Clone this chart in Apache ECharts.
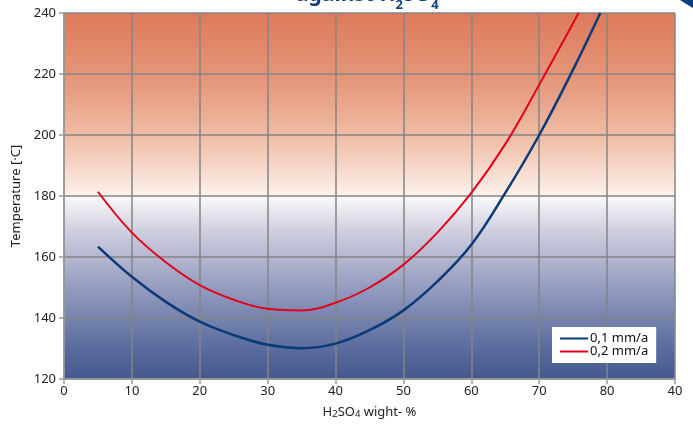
<!DOCTYPE html>
<html><head><meta charset="utf-8">
<script src="https://cdn.jsdelivr.net/npm/echarts@6/dist/echarts.min.js"></script>
<style>html,body{margin:0;padding:0;background:#fff}#c{width:693px;height:426px}</style>
</head><body><div id="c"></div>
<script>
const xTickLabels = ['0','10','20','30','40','50','60','70','80','40'];
const yTicks = [120,140,160,180,200,220,240];
const seriesNames = ['0,1 mm/a','0,2 mm/a'];
const blueX = [5,10,15,20,25,30,35,40,45,50,55,60,65,70,75,79];
const blueY = [163.4,153.5,145.3,138.8,134.4,131.2,130.1,131.6,136,142.5,152,164,181,200,221.5,240];
const redX = [5,10,15,20,25,30,35,40,45,50,55,60,65,70,75.8];
const redY = [181.4,168,158.3,150.8,146,143,142.5,145,150,157.5,168,181,197,216.5,240];

const FONT = 'Noto Sans';
const chart = echarts.init(document.getElementById('c'));
chart.setOption({
  animation:false,
  backgroundColor:'#fff',
  graphic:[
    {type:'text', left:296, top:-15, style:{
      text:'{a|against H}{s|2}{a|SO}{s|4}',
      rich:{
        a:{fontFamily:FONT,fontWeight:'bold',fontSize:21,fill:'#17407F',verticalAlign:'bottom',padding:[0,0,6,0]},
        s:{fontFamily:FONT,fontWeight:'bold',fontSize:13,fill:'#17407F',verticalAlign:'bottom'}
      }}},
    {type:'polygon', shape:{points:[[680,0],[693,0],[693,8],[688,5]]}, style:{fill:'#0E3C80'}}
  ],
  grid:{left:64,right:18,top:13,bottom:47,show:true,borderWidth:0,
    backgroundColor:{type:'linear',x:0,y:0,x2:0,y2:1,colorStops:[
      {offset:0,color:'#DD7A5B'},{offset:0.2,color:'#E69A7E'},{offset:0.35,color:'#F0C0AA'},
      {offset:0.495,color:'#FCF0E9'},{offset:0.5,color:'#FBF9FA'},{offset:0.6,color:'#CDCDDE'},
      {offset:0.75,color:'#959CBF'},{offset:0.9,color:'#5F70A1'},{offset:1,color:'#44598F'}]}},
  xAxis:{type:'value',min:0,max:90,interval:10,
    name:'{n|H}{s|2}{n|SO}{s|4}{n| wight- %}',nameLocation:'middle',nameGap:27,
    nameTextStyle:{rich:{n:{fontFamily:FONT,fontSize:13,color:'#222',verticalAlign:'bottom'},
                         s:{fontFamily:FONT,fontSize:9.5,color:'#222',verticalAlign:'bottom'}}},
    axisLine:{lineStyle:{color:'#9a9a9a',width:1.5}},
    axisTick:{show:true,length:5,lineStyle:{color:'#9a9a9a',width:1.5}},
    axisLabel:{fontFamily:FONT,fontSize:13,color:'#222',margin:6,
      formatter:(v)=>xTickLabels[Math.round(v/10)]},
    splitLine:{show:true,lineStyle:{color:'#858585',width:1.5}}},
  yAxis:{type:'value',min:120,max:240,interval:20,
    name:'Temperature [·C]',nameLocation:'middle',nameGap:38,
    nameTextStyle:{fontFamily:FONT,fontSize:13,color:'#222'},
    axisLine:{show:true,lineStyle:{color:'#9a9a9a',width:1.5}},
    axisTick:{show:true,length:5,lineStyle:{color:'#9a9a9a',width:1.5}},
    axisLabel:{fontFamily:FONT,fontSize:13,color:'#222',margin:8,
      formatter:(v)=>yTicks.includes(v)?String(v):''},
    splitLine:{show:true,lineStyle:{color:'#858585',width:1.5}}},
  legend:{show:true,orient:'vertical',left:552,top:327,width:110,
    backgroundColor:'#fff',padding:[5,8,5,8],itemGap:0,itemWidth:28,itemHeight:2,
    icon:'rect',textStyle:{fontFamily:FONT,fontSize:13,color:'#111',padding:[0,0,0,-3]},
    data:seriesNames},
  series:[
    {name:seriesNames[0],type:'line',smooth:0.4,showSymbol:false,symbol:'none',
      data:blueX.map((x,i)=>[x,blueY[i]]),lineStyle:{color:'#0B3A78',width:2.5},itemStyle:{color:'#0B3A78'}},
    {name:seriesNames[1],type:'line',smooth:0.4,showSymbol:false,symbol:'none',
      data:redX.map((x,i)=>[x,redY[i]]),lineStyle:{color:'#E4001B',width:2},itemStyle:{color:'#E4001B'}}
  ]
});
</script></body></html>
